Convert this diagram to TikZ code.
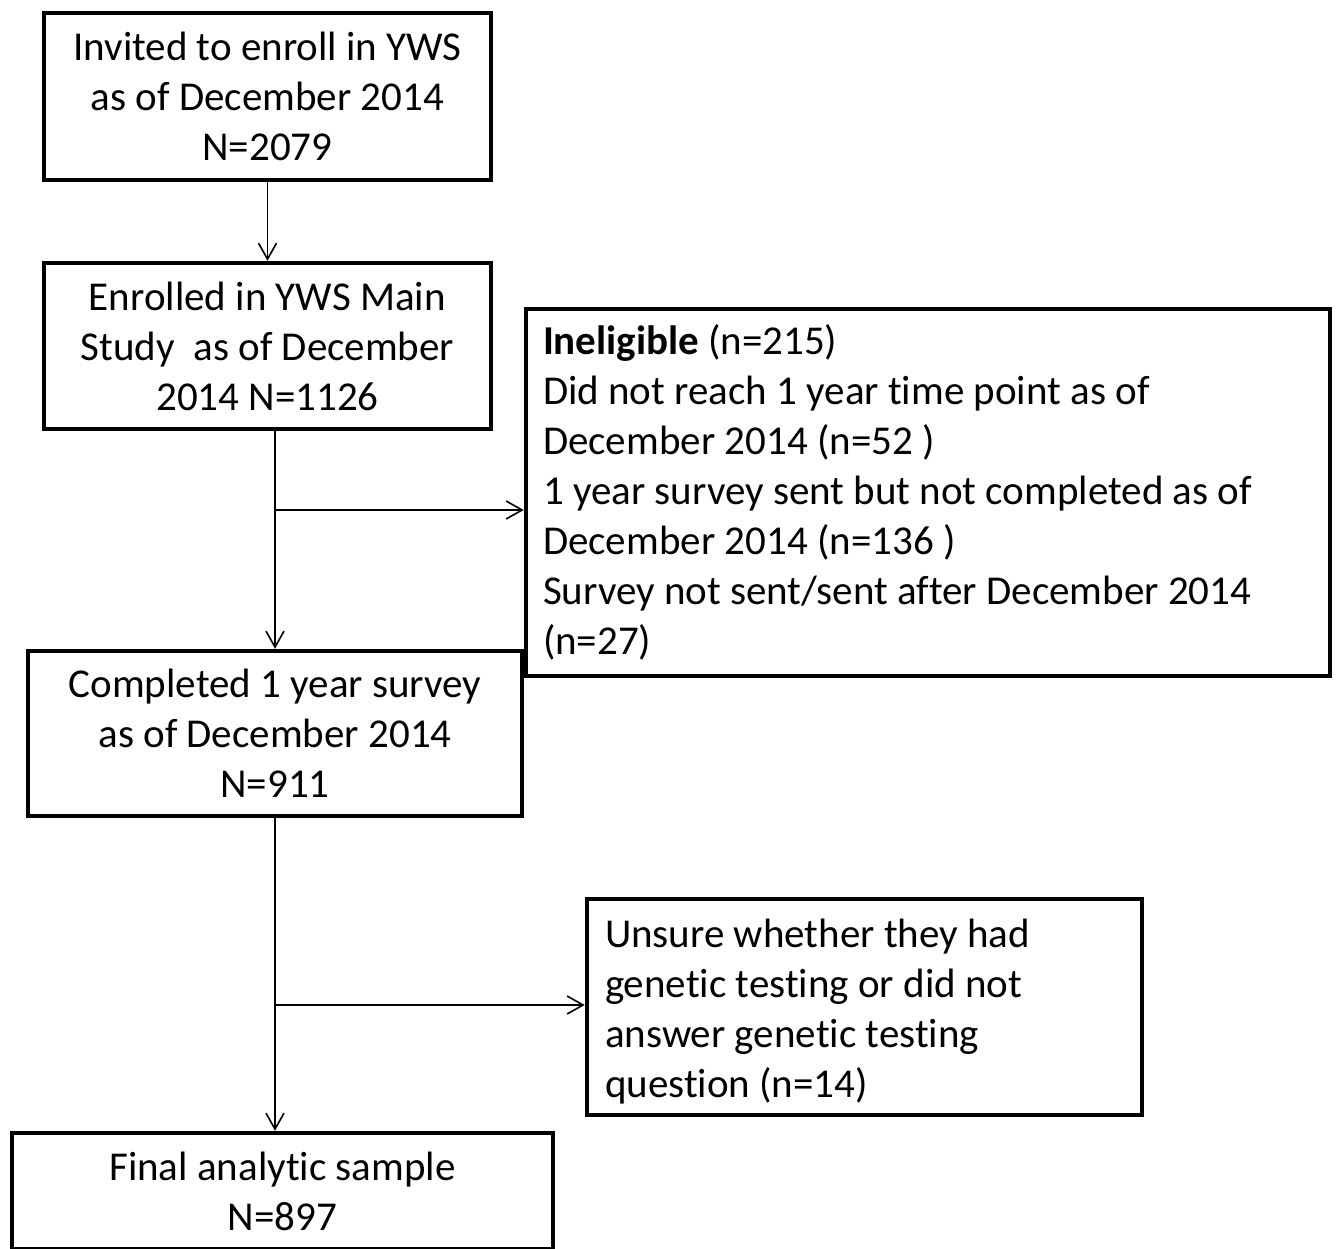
\documentclass[tikz,border=0pt]{standalone}
\usepackage{fontspec}
\setmainfont{Carlito}[Ligatures=NoCommon]
\usetikzlibrary{arrows.meta}
\begin{document}
\begin{tikzpicture}[x=1pt,y=-1pt,
  box/.style={draw=black,line width=4.5pt,inner sep=0pt,font=\fontsize{41}{50}\selectfont},
  cbox/.style={box,align=center},
  lbox/.style={box,align=flush left},
  arr/.style={line width=1.6pt,-{Straight Barb[length=16pt,width=18pt,line width=1.6pt]}}]
\useasboundingbox (0,0) rectangle (1337,1248);
\node[cbox,minimum width=447,minimum height=167] (b1) at (267.5,96.5)
  {Invited to enroll in YWS\\as of December 2014\\N=2079};
\node[cbox,minimum width=447,minimum height=166] (b2) at (267.5,346)
  {Enrolled in YWS Main\\Study~ as of December\\2014 N=1126};
\node[lbox,minimum width=804,minimum height=367,text width=770] (inel) at (928,492.5)
  {\textbf{Ineligible} (n=215)\\Did not reach 1 year time point as of\\December 2014 (n=52 )\\1 year survey sent but not completed as of\\December 2014 (n=136 )\\Survey not sent/sent after December 2014\\(n=27)};
\node[cbox,minimum width=494,minimum height=165] (b3) at (275,733.5)
  {Completed 1 year survey\\as of December 2014\\N=911};
\node[lbox,minimum width=555,minimum height=216,text width=519] (uns) at (864.5,1007)
  {\rule{0pt}{38pt}Unsure whether they had\\genetic testing or did not\\answer genetic testing\\question (n=14)};
\node[cbox,minimum width=541,minimum height=116] (fin) at (282.5,1191)
  {Final analytic sample\\N=897};
\coordinate (j1) at (275,510);
\coordinate (j2) at (275,1005);
\draw[arr] (b1) -- (b2);
\draw[arr] (b2.south -| b3.north) -- (b3.north);
\draw[arr] (j1) -- (j1 -| inel.west);
\draw[arr] (b3.south) -- (b3.south |- fin.north);
\draw[arr] (j2) -- (j2 -| uns.west);
\end{tikzpicture}
\end{document}
